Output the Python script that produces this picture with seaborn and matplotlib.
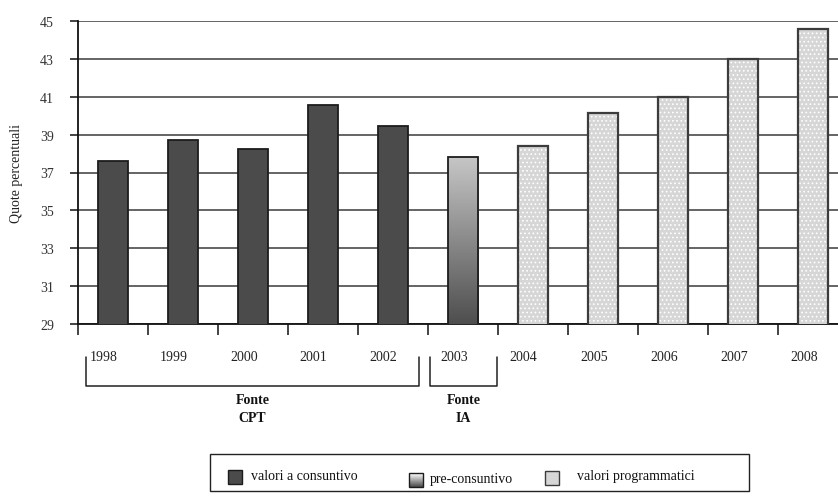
import numpy as np
import pandas as pd
import matplotlib
matplotlib.use("Agg")
import matplotlib.pyplot as plt
import matplotlib.transforms as mtransforms
from matplotlib.patches import Rectangle
from matplotlib.lines import Line2D
from matplotlib.colors import LinearSegmentedColormap
import seaborn as sns

# ---- data -------------------------------------------------------------
anni = ["1998", "1999", "2000", "2001", "2002", "2003",
        "2004", "2005", "2006", "2007", "2008"]
quote = [37.62, 38.73, 38.22, 40.56, 39.45, 37.80,
         38.40, 40.15, 41.00, 43.00, 44.58]
tipo = ["consuntivo"] * 5 + ["preconsuntivo"] + ["programmatico"] * 5
y_ticks = [29, 31, 33, 35, 37, 39, 41, 43, 45]
legenda = ["valori a consuntivo", "pre-consuntivo", "valori programmatici"]
# source brackets: label, left and right end on the category axis
fonti = [("Fonte\nCPT", -0.377, 4.376), ("Fonte\nIA", 4.537, 5.49)]

# ---- style ------------------------------------------------------------
sns.set_theme(style="white")
plt.rcParams["font.family"] = ["Liberation Serif", "DejaVu Serif"]
plt.rcParams["hatch.linewidth"] = 0.7

W, H = 838, 502
fig = plt.figure(figsize=(W / 100, H / 100), dpi=100)
ax = fig.add_axes([77.7 / W, 177 / H, 770 / W, 303 / H])

df = pd.DataFrame({"anno": anni, "quota": quote, "tipo": tipo})
sns.barplot(data=df, x="anno", y="quota", color="#4b4b4b", width=0.43,
            saturation=1, ax=ax, zorder=3)

ax.set_ylim(y_ticks[0], y_ticks[-1])
ax.set_xlim(-0.5, len(anni) - 0.5)

bars = sorted(ax.patches, key=lambda p: p.get_x())
grad_cmap = LinearSegmentedColormap.from_list("g", ["#4e4e4e", "#c6c6c6"])
for bar, kind in zip(bars, tipo):
    if kind == "consuntivo":
        bar.set_facecolor("#4b4b4b")
        bar.set_edgecolor("#1c1c1c")
        bar.set_linewidth(1.3)
    elif kind == "preconsuntivo":
        bar.set_facecolor("none")
        bar.set_edgecolor("#1c1c1c")
        bar.set_linewidth(1.3)
        x0, w, h = bar.get_x(), bar.get_width(), bar.get_height()
        grad = np.linspace(1, 0, 256).reshape(-1, 1)
        im = ax.imshow(grad, extent=[x0, x0 + w, y_ticks[0], h],
                       aspect="auto", cmap=grad_cmap, zorder=2.9)
        im.set_clip_path(bar)
    else:
        # dotted fill: white hatch over light grey, outline drawn on top
        bar.set_facecolor("#d6d6d6")
        bar.set_edgecolor("white")
        bar.set_hatch("....")
        bar.set_linewidth(0)
        ax.add_patch(Rectangle((bar.get_x(), 0), bar.get_width(),
                               bar.get_height(), fill=False,
                               edgecolor="#3c3c3c", linewidth=1.6,
                               zorder=3.2))

ax.set_xlim(-0.5, len(anni) - 0.5)
ax.set_ylim(y_ticks[0], y_ticks[-1])

# ---- axes -------------------------------------------------------------
ax.set_yticks(y_ticks)
ax.yaxis.grid(True, color="#4a4a4a", linewidth=1.2, zorder=0)
ax.xaxis.grid(False)
ax.set_axisbelow(True)
for s in ["top", "right"]:
    ax.spines[s].set_visible(False)
for s in ["left", "bottom"]:
    ax.spines[s].set_color("#111111")
    ax.spines[s].set_linewidth(1.3)

ax.set_xticks(np.arange(-0.5, len(anni), 1), minor=True)
ax.tick_params(axis="x", which="major", length=0, pad=19,
               labelsize=10, labelcolor="#222222")
ax.tick_params(axis="x", which="minor", length=8, width=1.1,
               color="#111111", direction="out", bottom=True)
ax.tick_params(axis="y", which="major", length=6, width=1.1,
               color="#111111", direction="out", left=True, pad=11,
               labelsize=10, labelcolor="#333333")
shift = mtransforms.ScaledTranslation(-9 / 100, 0, fig.dpi_scale_trans)
for lbl in ax.get_xticklabels():
    lbl.set_transform(lbl.get_transform() + shift)

ax.set_xlabel("")
ax.set_ylabel("Quote percentuali", fontsize=10, color="#222222")
ax.yaxis.set_label_coords(-0.071, 0.5)

# ---- source brackets --------------------------------------------------
btrans = mtransforms.blended_transform_factory(ax.transData, ax.transAxes)
y_top, y_bot = -0.108, -0.2036
for label, xl, xr in fonti:
    ax.add_line(Line2D([xl, xl, xr, xr], [y_top, y_bot, y_bot, y_top],
                       transform=btrans, color="#222222", linewidth=1.1,
                       clip_on=False))
    ax.text((xl + xr) / 2, -0.28, label, transform=btrans, ha="center",
            va="center", fontsize=10, fontweight="bold", linespacing=1.5,
            color="#111111")

# ---- legend box (figure pixel coordinates, from the top) --------------
def px(x, y):
    return x / W, 1 - y / H

fx, fy = px(210, 492)
fig.add_artist(Rectangle((fx, fy), 539 / W, 37 / H, transform=fig.transFigure,
                         fill=False, edgecolor="#222222", linewidth=1.0))

sq = 14
# dark square
x, y = px(228, 485)
fig.add_artist(Rectangle((x, y), sq / W, sq / H, transform=fig.transFigure,
                         facecolor="#4b4b4b", edgecolor="#1c1c1c",
                         linewidth=1.0))
# gradient square
legend_grad = LinearSegmentedColormap.from_list("lg", ["#4e4e4e", "#ffffff"])
n = 14
for k in range(n):
    x, y = px(409, 488 - k * sq / n)
    fig.add_artist(Rectangle((x, y), sq / W, sq / n / H,
                             transform=fig.transFigure,
                             facecolor=legend_grad(k / (n - 1)),
                             edgecolor="none"))
x, y = px(409, 488)
fig.add_artist(Rectangle((x, y), sq / W, sq / H, transform=fig.transFigure,
                         fill=False, edgecolor="#1c1c1c", linewidth=1.0))
# dotted square
x, y = px(545, 486)
fig.add_artist(Rectangle((x, y), sq / W, sq / H, transform=fig.transFigure,
                         facecolor="#d6d6d6", edgecolor="#3c3c3c",
                         linewidth=1.0))

for label, (tx, ty) in zip(legenda, [(251, 477), (430, 480), (577, 477)]):
    x, y = px(tx, ty)
    fig.text(x, y, label, ha="left", va="center", fontsize=10,
             color="#111111")

fig.savefig("out.png", dpi=100)
